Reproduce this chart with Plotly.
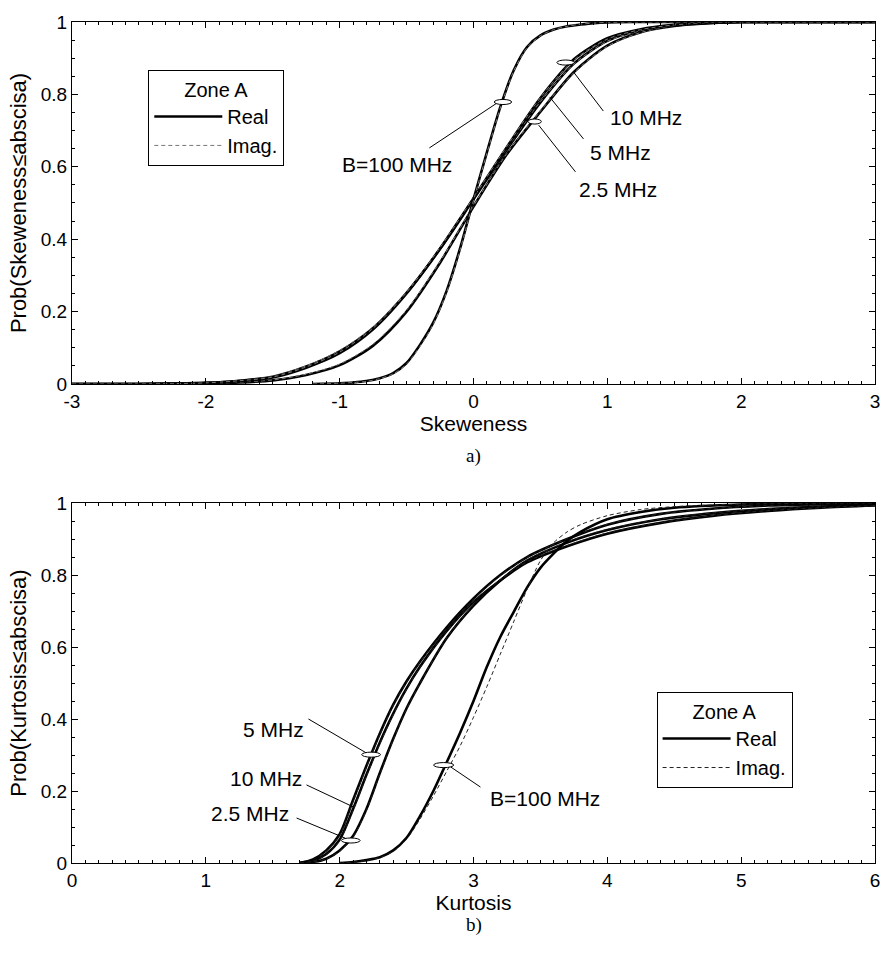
import plotly.graph_objects as go

# ---------------- data: skewness CDFs (top panel) ----------------
skew_x = [-3.0, -2.5, -2.25, -2.0, -1.75, -1.5, -1.25, -1.0, -0.75, -0.5, -0.25, 0.0,
          0.25, 0.5, 0.75, 1.0, 1.25, 1.5, 1.75, 2.0, 2.5, 3.0]
skew_10_real = [0, 0, 0.001, 0.003, 0.008, 0.018, 0.045, 0.085, 0.151, 0.25, 0.374, 0.513,
                0.655, 0.79, 0.897, 0.955, 0.98, 0.992, 0.998, 1, 1, 1]
skew_10_imag = [0, 0, 0.001, 0.003, 0.009, 0.019, 0.047, 0.088, 0.154, 0.253, 0.377, 0.515,
                0.657, 0.791, 0.895, 0.953, 0.979, 0.992, 0.998, 1, 1, 1]
skew_5_real = [0, 0, 0.001, 0.003, 0.009, 0.02, 0.048, 0.09, 0.155, 0.252, 0.373, 0.51,
               0.648, 0.778, 0.885, 0.948, 0.977, 0.991, 0.997, 1, 1, 1]
skew_5_imag = [0, 0, 0.001, 0.004, 0.01, 0.021, 0.05, 0.093, 0.158, 0.255, 0.376, 0.512,
               0.65, 0.78, 0.884, 0.947, 0.976, 0.99, 0.997, 1, 1, 1]
skew_25_real = [0, 0, 0, 0.001, 0.004, 0.01, 0.025, 0.052, 0.106, 0.2, 0.335, 0.49,
                0.635, 0.752, 0.862, 0.935, 0.972, 0.989, 0.997, 1, 1, 1]
skew_25_imag = [0, 0, 0, 0.001, 0.005, 0.011, 0.027, 0.055, 0.11, 0.204, 0.338, 0.492,
                0.637, 0.754, 0.86, 0.933, 0.971, 0.989, 0.997, 1, 1, 1]

skew_b100_x = [-1.2, -1.0, -0.9, -0.8, -0.7, -0.6, -0.5, -0.4, -0.3, -0.2, -0.1, 0.0,
               0.1, 0.2, 0.3, 0.4, 0.5, 0.6, 0.7, 0.8, 0.9, 1.0, 1.2, 1.5, 3.0]
skew_b100_real = [0, 0.002, 0.004, 0.008, 0.016, 0.03, 0.058, 0.108, 0.17, 0.258, 0.375, 0.51,
                  0.64, 0.765, 0.866, 0.931, 0.963, 0.979, 0.988, 0.993, 0.997, 0.999, 1, 1, 1]
skew_b100_imag = [0, 0.002, 0.004, 0.007, 0.015, 0.028, 0.055, 0.104, 0.166, 0.254, 0.371, 0.507,
                  0.637, 0.762, 0.864, 0.929, 0.962, 0.979, 0.988, 0.994, 0.997, 0.999, 1, 1, 1]

# ---------------- data: kurtosis CDFs (bottom panel) ----------------
kurt_x = [1.7, 1.8, 1.9, 2.0, 2.1, 2.2, 2.3, 2.4, 2.5, 2.6, 2.8, 3.0, 3.2, 3.4,
          3.7, 4.0, 4.4, 4.8, 5.2, 5.6, 6.0]
kurt_5_real = [0, 0.01, 0.035, 0.08, 0.175, 0.27, 0.36, 0.44, 0.505, 0.56, 0.655, 0.735,
               0.8, 0.85, 0.9, 0.94, 0.97, 0.985, 0.993, 0.997, 0.999]
kurt_5_imag = [0, 0.009, 0.033, 0.078, 0.17, 0.266, 0.356, 0.437, 0.502, 0.558, 0.652, 0.733,
               0.798, 0.849, 0.901, 0.941, 0.97, 0.985, 0.993, 0.997, 0.999]
kurt_10_real = [0, 0.006, 0.025, 0.065, 0.15, 0.245, 0.335, 0.415, 0.485, 0.545, 0.645, 0.725,
                0.785, 0.835, 0.88, 0.915, 0.945, 0.965, 0.978, 0.987, 0.993]
kurt_10_imag = [0, 0.005, 0.023, 0.062, 0.146, 0.241, 0.331, 0.412, 0.483, 0.543, 0.644, 0.726,
                0.787, 0.837, 0.882, 0.917, 0.946, 0.966, 0.979, 0.987, 0.993]
kurt_25_real = [0, 0.003, 0.012, 0.035, 0.075, 0.15, 0.25, 0.345, 0.43, 0.5, 0.625, 0.715,
                0.785, 0.84, 0.89, 0.925, 0.955, 0.972, 0.983, 0.99, 0.995]
kurt_25_imag = [0, 0.003, 0.011, 0.033, 0.072, 0.146, 0.246, 0.342, 0.428, 0.499, 0.626, 0.717,
                0.787, 0.842, 0.892, 0.927, 0.956, 0.973, 0.984, 0.99, 0.995]

kurt_b100_x = [2.0, 2.1, 2.2, 2.3, 2.4, 2.5, 2.6, 2.7, 2.8, 2.9, 3.0, 3.1, 3.2, 3.3,
               3.4, 3.5, 3.6, 3.7, 3.8, 4.0, 4.25, 4.5, 5.0, 5.5, 6.0]
kurt_b100_real = [0, 0.003, 0.008, 0.016, 0.035, 0.07, 0.13, 0.2, 0.28, 0.362, 0.45, 0.545,
                  0.628, 0.697, 0.765, 0.82, 0.86, 0.895, 0.92, 0.955, 0.975, 0.987, 0.996, 0.999, 1.0]
kurt_b100_imag = [0, 0.002, 0.007, 0.015, 0.032, 0.066, 0.122, 0.186, 0.255, 0.325, 0.405, 0.49,
                  0.58, 0.67, 0.76, 0.84, 0.89, 0.92, 0.94, 0.965, 0.982, 0.99, 0.997, 0.999, 1.0]

# ---------------- labels ----------------
skew_ticks = [-3, -2, -1, 0, 1, 2, 3]
skew_ticktext = ["-3", "-2", "-1", "0", "1", "2", "3"]
kurt_ticks = [0, 1, 2, 3, 4, 5, 6]
kurt_ticktext = ["0", "1", "2", "3", "4", "5", "6"]
prob_ticks = [0, 0.2, 0.4, 0.6, 0.8, 1]
prob_ticktext = ["0", "0.2", "0.4", "0.6", "0.8", "1"]

FONT = "Liberation Sans, Arial, sans-serif"

fig = go.Figure()

def add_pair(x, yr, yi, xa, ya, leg, show, imag_color):
    fig.add_trace(go.Scatter(x=x, y=yr, mode="lines", name="Real",
                             line=dict(color="black", width=2.6, shape="spline", smoothing=0.8),
                             xaxis=xa, yaxis=ya, legend=leg, showlegend=show,
                             legendrank=1))
    fig.add_trace(go.Scatter(x=x, y=yi, mode="lines", name="Imag.",
                             line=dict(color=imag_color, width=1, dash="4px,3px",
                                       shape="spline", smoothing=0.8),
                             xaxis=xa, yaxis=ya, legend=leg, showlegend=show,
                             legendrank=2))

# top panel
add_pair(skew_x, skew_25_real, skew_25_imag, "x", "y", "legend", True, "#777777")
add_pair(skew_x, skew_5_real, skew_5_imag, "x", "y", "legend", False, "#777777")
add_pair(skew_x, skew_10_real, skew_10_imag, "x", "y", "legend", False, "#777777")
add_pair(skew_b100_x, skew_b100_real, skew_b100_imag, "x", "y", "legend", False, "#777777")
# bottom panel
add_pair(kurt_x, kurt_25_real, kurt_25_imag, "x2", "y2", "legend2", True, "#222222")
add_pair(kurt_x, kurt_5_real, kurt_5_imag, "x2", "y2", "legend2", False, "#222222")
add_pair(kurt_x, kurt_10_real, kurt_10_imag, "x2", "y2", "legend2", False, "#222222")
add_pair(kurt_b100_x, kurt_b100_real, kurt_b100_imag, "x2", "y2", "legend2", False, "#222222")

axis_common = dict(showline=True, linecolor="black", linewidth=1, mirror="allticks",
                   ticks="inside", ticklen=6, tickcolor="black", tickwidth=1,
                   showgrid=False, zeroline=False, ticklabeloverflow="allow",
                   automargin=False,
                   tickfont=dict(family=FONT, size=19, color="black"),
                   minor=dict(ticks="inside", ticklen=3, tickcolor="black", tickwidth=1,
                              showgrid=False))

fig.update_layout(
    width=882, height=954,
    margin=dict(l=72, r=7, t=22, b=91),
    paper_bgcolor="white", plot_bgcolor="white",
    font=dict(family=FONT, color="black"),
    xaxis=dict(domain=[0, 1], range=[-3, 3], tickvals=skew_ticks, ticktext=skew_ticktext,
               anchor="y", minor_dtick=0.1,
               title=dict(text="Skeweness", font=dict(size=21), standoff=3),
               **axis_common),
    yaxis=dict(domain=[0.5696, 1], range=[0, 1], tickvals=prob_ticks, ticktext=prob_ticktext,
               anchor="x", minor_dtick=0.05,
               title=dict(text="Prob(Skeweness\u2264abscisa)", font=dict(size=22), standoff=8),
               **axis_common),
    xaxis2=dict(domain=[0, 1], range=[0, 6], tickvals=kurt_ticks, ticktext=kurt_ticktext,
                anchor="y2", minor_dtick=0.1,
                title=dict(text="Kurtosis", font=dict(size=21), standoff=3),
                **axis_common),
    yaxis2=dict(domain=[0, 0.428], range=[0, 1], tickvals=prob_ticks, ticktext=prob_ticktext,
                anchor="x2", minor_dtick=0.05,
                title=dict(text="Prob(Kurtosis\u2264abscisa)", font=dict(size=22), standoff=8),
                **axis_common),
    legend=dict(x=0.095, y=0.943, xanchor="left", yanchor="top",
                bordercolor="black", borderwidth=1, bgcolor="white",
                font=dict(family=FONT, size=20), itemwidth=68,
                title=dict(text="Zone A", side="top center", font=dict(family=FONT, size=20))),
    legend2=dict(x=0.728, y=0.2033, xanchor="left", yanchor="top",
                 bordercolor="black", borderwidth=1, bgcolor="white",
                 font=dict(family=FONT, size=20), itemwidth=68,
                 title=dict(text="Zone A", side="top center", font=dict(family=FONT, size=20))),
)

# ---------------- annotations (labels, leader lines, ellipses) ----------------
top_labels = [  # text, text_x, text_y, line_x0, line_y0, line_x1, line_y1
    ("B=100 MHz", -0.57, 0.606, -0.33, 0.652, 0.175, 0.776),
    ("10 MHz", 1.29, 0.735, 0.97, 0.754, 0.747, 0.862),
    ("5 MHz", 1.097, 0.639, 0.822, 0.677, 0.569, 0.793),
    ("2.5 MHz", 1.082, 0.537, 0.762, 0.586, 0.487, 0.715),
]
top_ellipses = [(0.22, 0.779, 0.13), (0.688, 0.888, 0.13), (0.457, 0.725, 0.1)]

bot_labels = [
    ("5 MHz", 1.507, 0.371, 1.767, 0.40, 2.198, 0.306),
    ("10 MHz", 1.448, 0.235, 1.752, 0.217, 2.101, 0.156),
    ("2.5 MHz", 1.329, 0.1375, 1.678, 0.125, 2.042, 0.069),
    ("B=100 MHz", 3.531, 0.179, 3.052, 0.211, 2.829, 0.267),
]
bot_ellipses = [(2.235, 0.301, 0.14), (2.083, 0.0625, 0.14), (2.777, 0.272, 0.15)]

for xa, ya, labels, ells in [("x", "y", top_labels, top_ellipses),
                             ("x2", "y2", bot_labels, bot_ellipses)]:
    for txt, tx, ty, lx0, ly0, lx1, ly1 in labels:
        fig.add_annotation(x=tx, y=ty, xref=xa, yref=ya, text=txt, showarrow=False,
                           font=dict(family=FONT, size=21, color="black"),
                           xanchor="center", yanchor="middle")
        fig.add_shape(type="line", x0=lx0, y0=ly0, x1=lx1, y1=ly1, xref=xa, yref=ya,
                      line=dict(color="black", width=1))
    for cx, cy, w in ells:
        fig.add_shape(type="circle", x0=cx - w / 2, x1=cx + w / 2, y0=cy - 0.007, y1=cy + 0.007,
                      xref=xa, yref=ya, line=dict(color="black", width=1), fillcolor="white",
                      layer="above")

# captions
fig.add_annotation(x=0.5, y=(863 - 456) / 841, xref="paper", yref="paper", text="a)",
                   showarrow=False, font=dict(family="Liberation Serif, Times New Roman, serif",
                                              size=19, color="black"))
fig.add_annotation(x=0.5, y=(863 - 938) / 841, xref="paper", yref="paper", text="b)",
                   showarrow=False, font=dict(family="Liberation Serif, Times New Roman, serif",
                                              size=19, color="black"))

fig.write_html("out.html")
